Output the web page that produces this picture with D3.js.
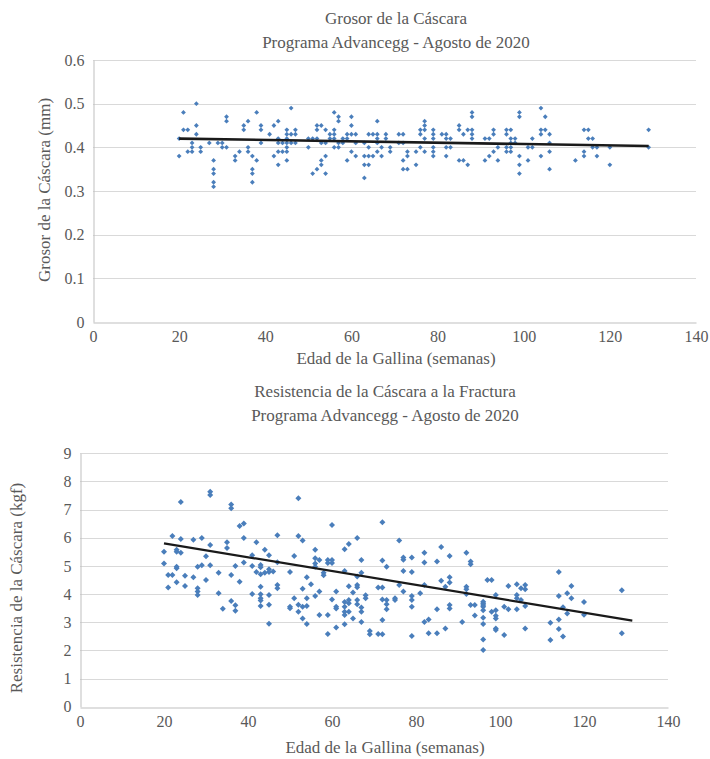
<!DOCTYPE html>
<html>
<head>
<meta charset="utf-8">
<script src="https://cdn.jsdelivr.net/npm/d3@7"></script>
<style>
	body { margin: 0; background: #fff; }
	svg text { font-family: "Liberation Serif", "Times New Roman", Tinos, serif; fill: #595959; }
</style>
</head>
<body>
<div id="chart"></div>
<script>
// --- Grosor de la cáscara (mm), grouped by hen age in weeks ---
const grosorSemanas = [20,21,22,23,24,25,27,28,29,30,31,33,34,35,36,37,38,39,41,42,43,44,45,46,47,
	50,51,52,53,54,55,56,57,58,59,60,61,63,64,65,66,67,68,69,71,72,73,75,76,77,79,81,82,83,85,86,87,88,
	91,92,93,94,96,97,98,99,101,102,104,105,106,112,114,115,116,117,120,129];
const grosorMm = [
	[0.42,0.38],[0.48,0.44],[0.44,0.39],[0.41,0.40,0.39],[0.50,0.45,0.43],[0.40,0.39],[0.41],
	[0.37,0.35,0.34,0.32,0.31],[0.41],[0.41,0.40],[0.40,0.47,0.46],[0.38,0.37],[0.39],[0.45,0.44],
	[0.46,0.40,0.39],[0.38,0.35,0.34,0.32],[0.48,0.37],[0.45,0.44,0.41],[0.43],[0.45,0.38],
	[0.46,0.42,0.41,0.39,0.36],[0.41,0.39],[0.44,0.43,0.42,0.41,0.40,0.39,0.37],[0.49,0.43,0.41],
	[0.44,0.43,0.41],[0.42,0.40],[0.42,0.34],[0.45,0.44,0.42,0.35],[0.45,0.41,0.37,0.36],
	[0.44,0.41,0.38,0.34],[0.43,0.42],[0.48,0.44,0.43,0.42,0.40],[0.47,0.46,0.41,0.40],[0.42,0.41],
	[0.43,0.42,0.37],[0.47,0.45,0.43,0.39],[0.43,0.41,0.38],[0.41,0.38,0.36,0.33],[0.43,0.40,0.38,0.36],
	[0.43,0.38],[0.46,0.43,0.42,0.41,0.39],[0.40,0.38],[0.43,0.42],[0.40,0.39],[0.43,0.41],
	[0.43,0.41,0.37,0.35],[0.39,0.38,0.35],[0.39,0.36],[0.44,0.43,0.40],[0.46,0.45,0.44,0.42,0.39],
	[0.44,0.43,0.42,0.40,0.39,0.38],[0.43],[0.43,0.42,0.40,0.38],[0.42,0.40],[0.45,0.44,0.37],
	[0.43,0.37],[0.44,0.36],[0.48,0.47,0.44,0.43,0.42],[0.42,0.37],[0.42,0.38],[0.44,0.43,0.39],
	[0.40,0.37],[0.44,0.43,0.40,0.39],[0.44,0.42,0.41,0.40,0.39],[0.42,0.41],[0.48,0.47,0.38,0.36,0.34],
	[0.40,0.37],[0.42,0.40],[0.49,0.44,0.43,0.38],[0.47,0.44],[0.43,0.41,0.39,0.35],[0.37],
	[0.44,0.39,0.38],[0.44,0.42],[0.42,0.40],[0.40,0.38],[0.40,0.36],[0.44,0.40]
];
const grosorTendencia = [[20, 0.420], [129, 0.403]];

// --- Resistencia de la cáscara a la fractura (kgf) ---
const resistenciaSemanas = [20,21,22,23,24,25,27,28,29,30,31,33,34,35,36,37,38,39,41,42,43,44,45,46,47,
	50,51,52,53,54,55,56,57,58,59,60,61,63,64,65,66,67,68,69,71,72,73,75,76,77,79,81,82,83,85,86,87,88,
	91,92,93,94,96,97,98,99,101,102,104,105,106,112,114,115,116,117,120,129];
const resistenciaKgf = [
	[5.50,5.09],[4.68,4.23],[6.06,4.68],[5.57,5.50,4.97,4.92,4.42],[7.27,5.96,5.47],[4.65,4.29],
	[5.93,4.60],[4.97,4.21,4.09,3.97],[5.99,5.02],[5.34,4.50],[7.63,7.52,5.74,5.02],[4.76,4.03],[3.48],
	[5.84,5.64],[7.18,7.05,4.68,3.75],[5.00,3.60,3.41],[6.42,4.44],[6.51,5.99,5.12],[5.38,5.00,4.00],
	[5.84,4.78],[5.03,4.95,4.70,4.26,3.99,3.85,3.77,3.58],[5.57,4.76],[5.38,4.88,4.78,3.97,3.62,2.95],
	[4.80],[6.09,5.13,4.32,4.21],[4.78,3.55,3.50],[5.35,3.85],[7.40,6.06,3.62,3.37],[5.90,4.19,3.55,3.13],
	[4.60,3.85,3.58,2.94],[4.35],[5.57,5.27,5.09,4.97,3.93],[5.21,4.09,3.26],[4.76,4.67],
	[5.21,5.10,3.26,2.58],[6.45,5.21,5.10,3.81],[4.09,3.55,3.49,2.81],[5.59,4.82,3.72,3.55,3.37,3.26,2.93],
	[5.78,4.28,3.79,3.67,3.37],[4.06,3.13],[5.99,4.62,4.32,4.24,3.79,3.64],[5.21,4.76,3.52,3.37,3.01],
	[3.96,3.85],[2.69,2.57],[4.23,2.58],[6.55,5.19,4.23,3.81,3.08,2.57],[4.97,3.79,3.64,3.46],[3.85,3.79],
	[5.90,4.32],[5.30,5.22,4.82,4.09],[5.30,4.78,3.93,3.79,3.55,2.51],[4.03],[5.47,5.12,4.32,3.01],
	[3.10,2.61],[5.16,3.46,2.61],[5.67,4.47],[4.26,2.78],[5.35,4.60,4.41,3.61,3.49],[3.01],
	[5.47,4.26,4.17,4.00],[5.16,5.06,3.61],[3.61,3.24],[3.73,3.67,3.61,3.55,3.43,3.16,2.94,2.39,2.01],
	[4.50],[4.50,3.37],[3.97,3.43,3.23,3.13,2.78,2.72],[3.55,2.55],[4.29,3.46],[4.35,3.97,3.85,3.46],
	[4.21,3.79],[4.32,4.17,3.58,2.78],[2.98,2.37],[4.78,3.93,3.10,2.76],[3.53,2.49],[4.03,3.31],
	[4.29,3.85],[3.72,3.27],[4.14,2.61]
];
const resistenciaTendencia = [[20, 5.80], [131.5, 3.06]];

const xTicks = [0, 20, 40, 60, 80, 100, 120, 140];
const grosorTicks = [0, 0.1, 0.2, 0.3, 0.4, 0.5, 0.6];
const resistenciaTicks = [0, 1, 2, 3, 4, 5, 6, 7, 8, 9];

const W = 710, H = 759;
const markerColor = '#4a7ebb';
const serif = '"Liberation Serif", "Times New Roman", Tinos, serif';

const svg = d3.select('#chart').append('svg')
	.attr('width', W)
	.attr('height', H)
	.attr('font-family', serif);

// flatten the grouped values into {x, y} points
function toPoints(weeks, groups) {
	const pts = [];
	weeks.forEach((w, i) => groups[i].forEach(v => pts.push({x: w, y: v})));
	return pts;
}

function scatterPanel(cfg) {
	const g = svg.append('g').attr('class', 'panel');

	const x = d3.scaleLinear().domain([0, 140]).range([cfg.left, cfg.right]);
	const y = d3.scaleLinear().domain(cfg.yDomain).range([cfg.bottom, cfg.top]);

	// horizontal gridlines
	g.append('g')
		.selectAll('line')
		.data(cfg.yTicks.slice(1)).enter()
		.append('line')
		.attr('x1', cfg.left).attr('x2', cfg.right)
		.attr('y1', d => Math.round(y(d)) + 0.5)
		.attr('y2', d => Math.round(y(d)) + 0.5)
		.attr('stroke', '#d9d9d9')
		.attr('stroke-width', 1);

	// axes (no tick marks, just the line + labels)
	const yAxis = g.append('g')
		.attr('transform', `translate(${Math.round(cfg.left) + 0.5},0)`)
		.call(d3.axisLeft(y).tickValues(cfg.yTicks).tickSize(0).tickPadding(9).tickFormat(cfg.yFormat));
	const xAxis = g.append('g')
		.attr('transform', `translate(0,${Math.round(cfg.bottom) + 0.5})`)
		.call(d3.axisBottom(x).tickValues(xTicks).tickSize(0).tickPadding(8));
	[yAxis, xAxis].forEach(a => {
		a.attr('font-family', serif).attr('font-size', 16);
		a.select('.domain').attr('stroke', '#bfbfbf');
		a.selectAll('text').attr('fill', '#595959');
	});

	// markers: small diamonds
	const r = cfg.markerR;
	g.append('g')
		.selectAll('path')
		.data(toPoints(cfg.weeks, cfg.values)).enter()
		.append('path')
		.attr('d', `M0,${-r}L${r},0L0,${r}L${-r},0Z`)
		.attr('transform', d => `translate(${x(d.x)},${y(d.y)})`)
		.attr('fill', markerColor);

	// linear trend line
	g.append('path')
		.datum(cfg.trend)
		.attr('d', d3.line().x(d => x(d[0])).y(d => y(d[1])))
		.attr('stroke', '#1a1a1a')
		.attr('stroke-width', cfg.trendWidth)
		.attr('fill', 'none');

	// titles
	const t = g.append('g').attr('text-anchor', 'middle').attr('font-size', 17);
	cfg.title.forEach((line, i) => {
		t.append('text')
			.attr('x', cfg.titleX)
			.attr('y', cfg.titleY + i * 23.5)
			.text(line);
	});
	t.append('text')
		.attr('x', cfg.titleX)
		.attr('y', cfg.xLabelY)
		.text('Edad de la Gallina (semanas)');
	t.append('text')
		.attr('transform', `translate(${cfg.yLabelX},${cfg.yLabelY}) rotate(-90)`)
		.text(cfg.yLabel);
}

scatterPanel({
	left: 93, right: 696, top: 60, bottom: 322,
	yDomain: [0, 0.6], yTicks: grosorTicks, yFormat: d => d === 0 ? '0' : d3.format('.1f')(d),
	weeks: grosorSemanas, values: grosorMm, trend: grosorTendencia,
	markerR: 2.4, trendWidth: 2.6,
	title: ['Grosor de la Cáscara', 'Programa Advancegg - Agosto de 2020'],
	titleX: 396, titleY: 24, xLabelY: 364,
	yLabel: 'Grosor de la Cáscara (mm)', yLabelX: 50, yLabelY: 190
});

scatterPanel({
	left: 80, right: 668, top: 453.3, bottom: 706.7,
	yDomain: [0, 9], yTicks: resistenciaTicks, yFormat: d3.format('d'),
	weeks: resistenciaSemanas, values: resistenciaKgf, trend: resistenciaTendencia,
	markerR: 3, trendWidth: 2.2,
	title: ['Resistencia de la Cáscara a la Fractura', 'Programa Advancegg - Agosto de 2020'],
	titleX: 385, titleY: 397, xLabelY: 753,
	yLabel: 'Resistencia de la Cáscara (kgf)', yLabelX: 22, yLabelY: 588
});
</script>
</body>
</html>
